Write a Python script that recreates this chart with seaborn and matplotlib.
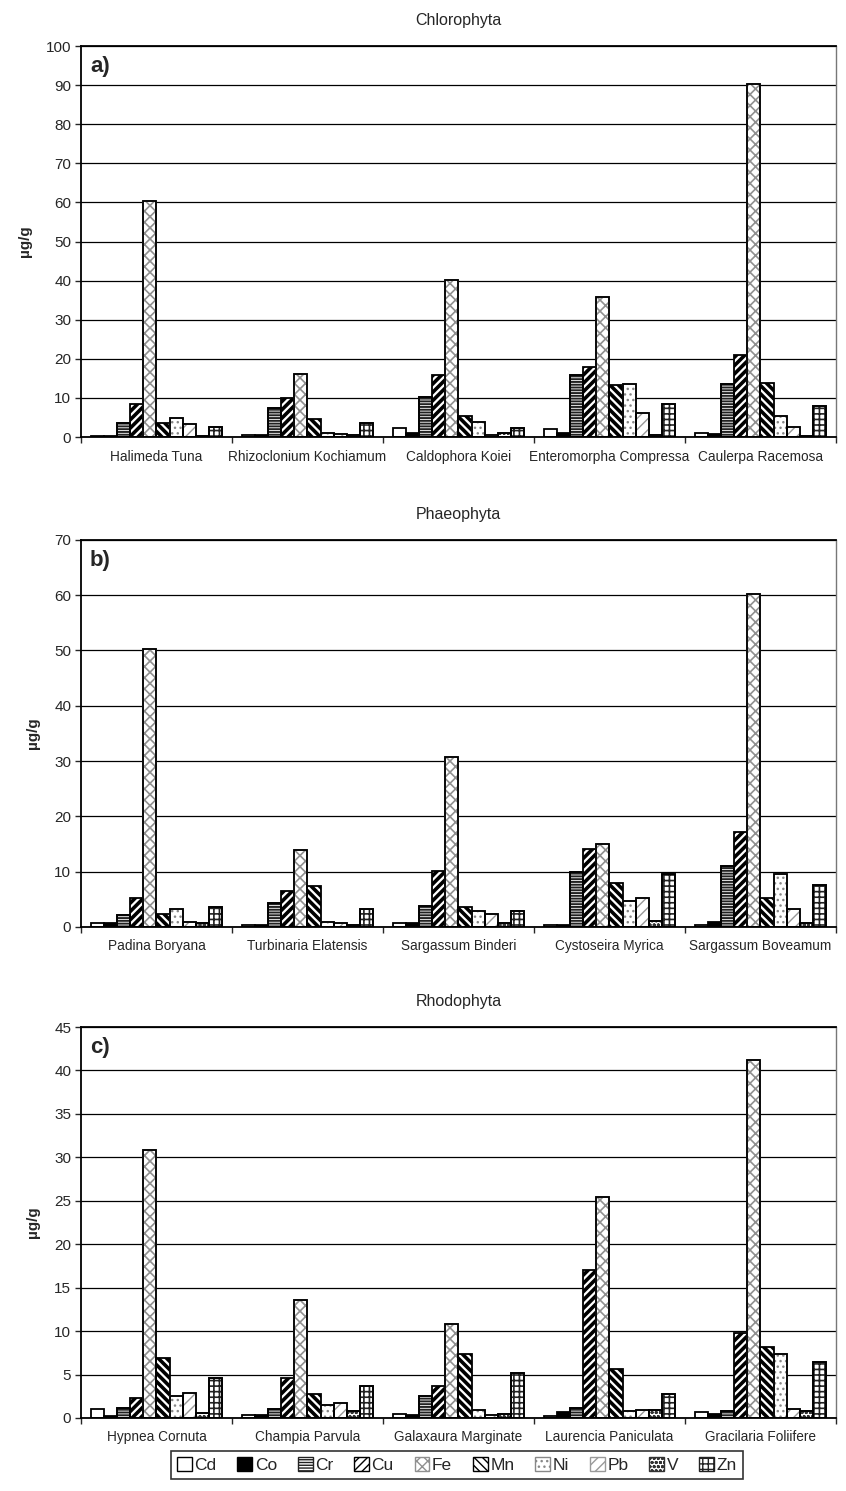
import pandas as pd
import seaborn as sns
import matplotlib.pyplot as plt
from matplotlib.patches import Patch, Rectangle

metals = ["Cd", "Co", "Cr", "Cu", "Fe", "Mn", "Ni", "Pb", "V", "Zn"]

# a) Chlorophyta
chloro_species = ["Halimeda Tuna", "Rhizoclonium Kochiamum", "Caldophora Koiei",
                  "Enteromorpha Compressa", "Caulerpa Racemosa"]
chloro_vals = [
    [0.2, 0.2, 3.5, 8.4, 60.3, 3.5, 4.9, 3.3, 0.2, 2.6],
    [0.6, 0.5, 7.5, 10.1, 16.0, 4.6, 1.1, 0.8, 0.5, 3.6],
    [2.3, 1.0, 10.3, 15.8, 40.2, 5.4, 3.9, 0.6, 1.0, 2.3],
    [2.0, 0.9, 15.8, 18.0, 35.8, 13.2, 13.5, 6.1, 0.6, 8.4],
    [0.9, 0.8, 13.5, 20.9, 90.3, 13.9, 5.4, 2.6, 0.3, 8.0],
]

# b) Phaeophyta
phaeo_species = ["Padina Boryana", "Turbinaria Elatensis", "Sargassum Binderi",
                 "Cystoseira Myrica", "Sargassum Boveamum"]
phaeo_vals = [
    [0.7, 0.7, 2.2, 5.2, 50.3, 2.3, 3.3, 0.9, 0.7, 3.6],
    [0.4, 0.4, 4.4, 6.5, 13.9, 7.4, 0.9, 0.7, 0.4, 3.3],
    [0.7, 0.7, 3.8, 10.2, 30.7, 3.6, 2.8, 2.4, 0.8, 2.9],
    [0.4, 0.4, 9.9, 14.1, 15.0, 8.0, 4.7, 5.3, 1.0, 9.5],
    [0.4, 0.9, 11.1, 17.2, 60.2, 5.3, 9.6, 3.2, 0.7, 7.6],
]

# c) Rhodophyta
rhodo_species = ["Hypnea Cornuta", "Champia Parvula", "Galaxaura Marginate",
                 "Laurencia Paniculata", "Gracilaria Foliifere"]
rhodo_vals = [
    [1.0, 0.2, 1.2, 2.3, 30.8, 6.9, 2.5, 2.9, 0.6, 4.6],
    [0.3, 0.3, 1.0, 4.6, 13.6, 2.7, 1.45, 1.75, 0.8, 3.7],
    [0.45, 0.3, 2.5, 3.7, 10.8, 7.4, 0.9, 0.35, 0.45, 5.2],
    [0.2, 0.7, 1.15, 17.0, 25.4, 5.6, 0.85, 0.9, 0.9, 2.75],
    [0.65, 0.45, 0.75, 9.8, 41.2, 8.2, 7.4, 1.0, 0.75, 6.4],
]

panels = [
    ("Chlorophyta", "a)", chloro_species, chloro_vals, 100, 10),
    ("Phaeophyta", "b)", phaeo_species, phaeo_vals, 70, 10),
    ("Rhodophyta", "c)", rhodo_species, rhodo_vals, 45, 5),
]

# fill colour, hatch, hatch colour, hatch linewidth per metal
styles = {
    "Cd": ("white", "", "black", 1.0),
    "Co": ("black", "", "black", 1.0),
    "Cr": ("white", "------", "#222222", 1.4),
    "Cu": ("white", "////", "black", 2.6),
    "Fe": ("white", "xxx", "#909090", 1.2),
    "Mn": ("white", "\\\\\\\\", "black", 2.6),
    "Ni": ("white", "...", "#888888", 1.0),
    "Pb": ("white", "///", "#9a9a9a", 1.0),
    "V": ("white", "oooo", "#333333", 1.0),
    "Zn": ("white", "+++", "#222222", 1.2),
}

sns.set_style("white")
plt.rcParams["font.family"] = ["Liberation Sans", "DejaVu Sans"]


def style_patch(p, metal):
    fc, hatch, hc, hlw = styles[metal]
    p.set_hatch(hatch)
    if hasattr(p, "set_hatch_linewidth"):
        p.set_hatch_linewidth(hlw)
    if hc != "black":
        p.set_edgecolor(hc)


fig = plt.figure(figsize=(8.46, 14.91), dpi=100)
boxes = [[0.0957, 0.7069, 0.8924, 0.2622],
         [0.0957, 0.3783, 0.8924, 0.2596],
         [0.0957, 0.0490, 0.8924, 0.2622]]

for (title, tag, species, vals, ymax, step), box in zip(panels, boxes):
    ax = fig.add_axes(box)
    df = pd.DataFrame(vals, index=species, columns=metals)
    long = df.reset_index(names="species").melt(id_vars="species", var_name="metal", value_name="value")
    sns.barplot(data=long, x="species", y="value", hue="metal", order=species,
                hue_order=metals, palette={m: styles[m][0] for m in metals},
                width=0.87, edgecolor="black", linewidth=1.3, legend=False, ax=ax)
    for metal, cont in zip(metals, ax.containers):
        for p in cont:
            style_patch(p, metal)
            if styles[metal][2] != "black":
                ax.add_patch(Rectangle(p.get_xy(), p.get_width(), p.get_height(),
                                       facecolor="none", edgecolor="black", linewidth=1.3,
                                       zorder=p.get_zorder() + 0.1))
    ax.set_ylim(0, ymax)
    ax.set_xlim(-0.5, 4.5)
    ax.set_yticks(range(0, ymax + 1, step))
    ax.yaxis.grid(True, color="black", linewidth=0.9)
    ax.set_axisbelow(True)
    ax.tick_params(axis="y", left=True, length=4, width=1, labelsize=11, pad=3)
    ax.set_xticks([-0.5, 0.5, 1.5, 2.5, 3.5, 4.5], minor=True)
    ax.tick_params(axis="x", which="major", length=0, labelsize=9.8, pad=9)
    ax.tick_params(axis="x", which="minor", bottom=True, length=4, width=1)
    for s in ["left", "bottom", "top"]:
        ax.spines[s].set_color("black")
        ax.spines[s].set_linewidth(1.3)
    ax.spines["right"].set_color("#777777")
    ax.spines["right"].set_linewidth(1.0)
    ax.set_xlabel("")
    ax.set_ylabel("µg/g", fontsize=11, fontweight="bold", labelpad=10)
    ax.set_title(title, fontsize=11.5, pad=15)
    ax.text(0.012, 0.975, tag, transform=ax.transAxes, fontsize=16,
            fontweight="bold", va="top", ha="left")

handles = []
for m in metals:
    fc, hatch, hc, hlw = styles[m]
    h = Patch(facecolor=fc, edgecolor=hc, hatch=hatch, linewidth=1.0, label=m)
    handles.append(h)
leg = fig.legend(handles=handles, loc="center", bbox_to_anchor=(0.54, 0.0175),
                 ncol=10, fontsize=12.5, frameon=True, fancybox=False,
                 handlelength=0.85, handleheight=0.85, handletextpad=0.15,
                 columnspacing=1.2, borderpad=0.35, edgecolor="black")
leg.get_frame().set_linewidth(1.2)

fig.savefig("out.png", dpi=100)
